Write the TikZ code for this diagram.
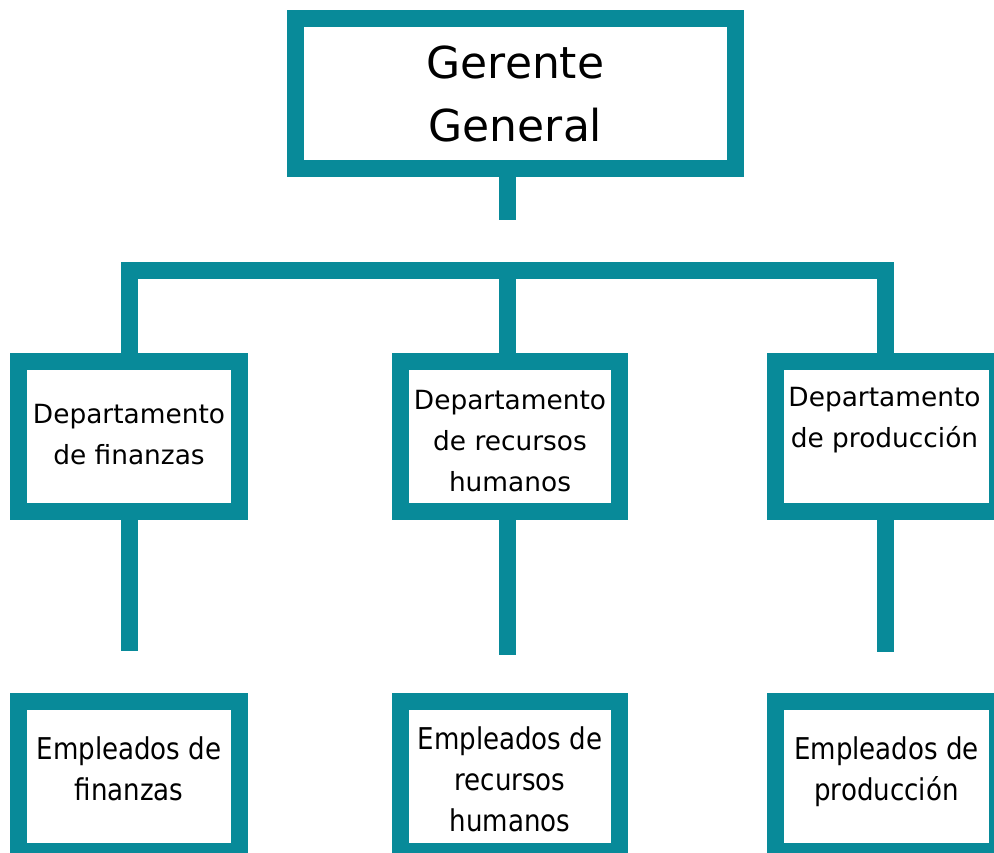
\documentclass[tikz,border=0pt]{standalone}
\usepackage{fontspec}
\setmainfont{DejaVu Sans}
\newfontfamily\condfont[FakeStretch=0.87]{DejaVu Sans}
\definecolor{orgteal}{RGB}{8,138,153}
\newcommand{\shiftedlines}[2]{\raisebox{#1}[\height][\depth]{\begin{tabular}{@{}c@{}}#2\end{tabular}}}
\begin{document}
\begin{tikzpicture}[x=1pt,y=-1pt,
  orgbox/.style={draw=orgteal, line width=17pt, fill=white, rectangle, inner sep=0pt,
    align=center, text=black, line join=miter},
  topbox/.style={orgbox, minimum width=440pt, minimum height=150pt, font=\fontsize{44}{63}\selectfont},
  deptbox/.style={orgbox, minimum width=221pt, minimum height=150pt, font=\fontsize{26.4}{41}\selectfont},
  empbox/.style={orgbox, minimum width=221pt, minimum height=150pt, font=\condfont\fontsize{30}{41}\selectfont},
  link/.style={draw=orgteal, line width=17pt, line join=miter, line cap=butt}]
\useasboundingbox (0,0) rectangle (994,853);
% connector coordinates
\coordinate (ggbot) at (507.5,177);
\coordinate (ggstem) at (507.5,220);
\coordinate (barL) at (129,270.5);
\coordinate (barM) at (507.5,270.5);
\coordinate (barR) at (885.5,270.5);
\coordinate (d1top) at (129,353);
\coordinate (d2top) at (507.5,353);
\coordinate (d3top) at (885.5,353);
\coordinate (d1bot) at (129,520);
\coordinate (d2bot) at (507.5,520);
\coordinate (d3bot) at (885.5,520);
\coordinate (s1) at (129,651);
\coordinate (s2) at (507.5,655);
\coordinate (s3) at (885.5,652);
% connectors
\draw[link] (ggbot) -- (ggstem);
\draw[link] (d1top) -- (barL) -- (barR) -- (d3top);
\draw[link] (barM) -- (d2top);
\draw[link] (d1bot) -- (s1);
\draw[link] (d2bot) -- (s2);
\draw[link] (d3bot) -- (s3);
% boxes
\node[topbox] (gg) at (515.5,93.5) {Gerente\\General};
\node[deptbox] (d1) at (129,436.5) {\shiftedlines{1pt}{Departamento\\de finanzas}};
\node[deptbox, minimum width=219pt] (d2) at (510,436.5) {\shiftedlines{-6pt}{Departamento\\de recursos\\humanos}};
\node[deptbox, minimum width=222pt] (d3) at (886.5,436.5) {\shiftedlines{-2.5pt}{Departamento\\de producción\\\mbox{}}\hspace*{4pt}};
\node[empbox] (e1) at (129,776.5) {\shiftedlines{5pt}{Empleados de\\finanzas}};
\node[empbox, minimum width=219pt] (e2) at (510,776.5) {\shiftedlines{-5.5pt}{Empleados de\\recursos\\humanos}};
\node[empbox, minimum width=222pt] (e3) at (886.5,776.5) {\shiftedlines{5pt}{Empleados de\\producción}};
\end{tikzpicture}
\end{document}
